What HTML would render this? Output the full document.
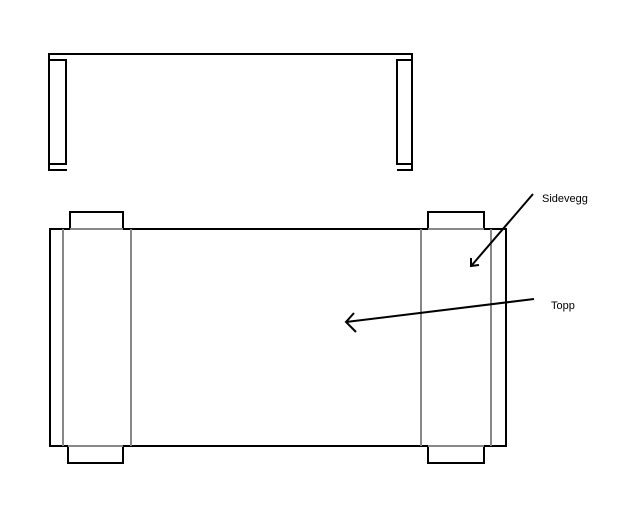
<!DOCTYPE html>
<html><head><style>body{margin:0;background:#fff}svg{display:block}</style></head><body>
<svg width="640" height="512" xmlns="http://www.w3.org/2000/svg">
<g fill="none" stroke="#000" stroke-width="2" shape-rendering="crispEdges">
<line x1="48" y1="54" x2="413" y2="54"/>
<rect x="49" y="60" width="17" height="104"/>
<line x1="49" y1="54" x2="49" y2="171"/>
<line x1="48" y1="170" x2="67" y2="170"/>
<line x1="412" y1="54" x2="412" y2="171"/>
<rect x="397" y="60" width="15" height="104"/>
<line x1="397" y1="170" x2="413" y2="170"/>
<rect x="50" y="229" width="456" height="217"/>
<polyline points="70,229 70,212 123,212 123,229"/>
<polyline points="428,229 428,212 484,212 484,229"/>
<polyline points="68,446 68,463 123,463 123,446"/>
<polyline points="428,446 428,463 484,463 484,446"/>
</g>
<g stroke="#888" stroke-width="2" shape-rendering="crispEdges">
<line x1="63" y1="229" x2="63" y2="446"/>
<line x1="131" y1="229" x2="131" y2="446"/>
<line x1="421" y1="229" x2="421" y2="446"/>
<line x1="491" y1="229" x2="491" y2="446"/>
<line x1="70" y1="229" x2="123" y2="229"/>
<line x1="68" y1="446" x2="123" y2="446"/>
<line x1="428" y1="229" x2="484" y2="229"/>
<line x1="428" y1="446" x2="484" y2="446"/>
</g>
<g stroke="#000" stroke-width="2" fill="none">
<line x1="533" y1="194" x2="472" y2="265"/>
<polyline points="471,258 471,266 479,265"/>
<line x1="534" y1="299" x2="346" y2="322"/>
<polyline points="354,313 346,322 356,332"/>
</g>
<text x="542" y="202" font-family="Liberation Sans, sans-serif" font-size="11">Sidevegg</text>
<text x="551" y="309" font-family="Liberation Sans, sans-serif" font-size="11">Topp</text>
</svg>
</body></html>
